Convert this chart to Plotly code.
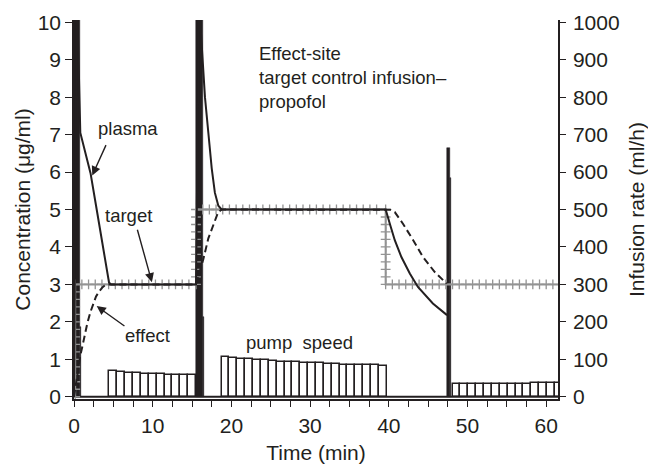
import numpy as np
import plotly.graph_objects as go

# ---- concentrations (µg/ml) over time (min) ----
plasma_t = [0.0, 0.35, 0.8, 1.5, 2.1, 2.9, 3.7, 4.15, 4.45, 4.7, 15.5, 15.9, 16.35,
            16.64, 17.07, 17.5, 17.9, 18.34, 18.76, 39.6, 40.13, 40.76, 41.6, 42.67,
            43.7, 45.6, 47.4]
plasma_c = [0.0, 11.0, 7.05, 6.5, 5.97, 4.98, 3.92, 3.38, 3.05, 3.0, 3.0, 10.5, 8.95,
            8.0, 7.05, 6.1, 5.45, 5.1, 5.0, 5.0, 4.62, 4.18, 3.73, 3.29,
            2.93, 2.49, 2.18]

effect_t = [0.0, 0.4, 0.8, 1.06, 1.4, 1.7, 2.1, 2.46, 2.8, 3.19, 3.6, 4.04, 4.6, 15.5,
            15.9, 16.43, 17.07, 17.7, 18.34, 18.8, 39.6, 40.2, 40.76, 41.8, 43.1,
            44.35, 45.84, 47.35]
effect_c = [0.0, 0.6, 1.1, 1.34, 1.7, 1.97, 2.27, 2.5, 2.68, 2.81, 2.92, 2.99, 3.0, 3.0,
            3.3, 3.67, 4.23, 4.61, 4.94, 5.0, 5.0, 4.99, 4.93, 4.62, 4.18,
            3.73, 3.33, 3.02]

# target setpoint changes
target_change_t = [0.15, 15.5, 39.6]
target_level = [3.0, 5.0, 3.0]
t_end = 61.5

# ---- pump speed (ml/h) ----
pump_a_start = 4.5
pump_a_rate = [68, 66, 64, 63, 62, 61, 60, 59, 58, 58, 57]
pump_b_start = 18.75
pump_b_rate = [105, 103, 101, 100, 98, 97, 95, 94, 93, 92, 91, 90, 89, 88, 87, 86,
               86, 85, 84, 84, 83]
pump_c_start = 48.1
pump_c_rate = [33, 33, 33, 33, 34, 34, 34, 35, 35, 35, 36, 36, 37, 37]

bolus_start = [0.0, 0.82, 15.5, 16.35, 47.4, 47.75]
bolus_end = [0.82, 0.95, 16.35, 16.47, 47.75, 47.9]
bolus_rate = [1200, 186, 1200, 213, 663, 583]

INK = "#231f20"
GREY = "#939393"
FONT = "Liberation Sans, Arial, Helvetica, sans-serif"

fig = go.Figure()

# pump: 1-minute hollow bars
bar_x, bar_y = [], []
for start, rates in [(pump_a_start, pump_a_rate), (pump_b_start, pump_b_rate),
                     (pump_c_start, pump_c_rate)]:
    for i, r in enumerate(rates):
        bar_x.append(start + i + 0.5)
        bar_y.append(r)
fig.add_trace(go.Bar(x=bar_x, y=bar_y, width=1.0, yaxis="y2",
                     marker=dict(color="white", line=dict(color=INK, width=1.5)),
                     showlegend=False, hoverinfo="skip"))

# pump: boluses drawn solid
b_mid = [(s + e) / 2 for s, e in zip(bolus_start, bolus_end)]
b_w = [e - s for s, e in zip(bolus_start, bolus_end)]
fig.add_trace(go.Bar(x=b_mid, y=bolus_rate, width=b_w, yaxis="y2",
                     marker=dict(color=INK, line=dict(color=INK, width=0.5)),
                     showlegend=False, hoverinfo="skip"))

# pump at rest
fig.add_trace(go.Scatter(x=[0, t_end], y=[0, 0], yaxis="y2", mode="lines",
                         line=dict(color=INK, width=2.2), showlegend=False,
                         hoverinfo="skip"))

# target: step line
tx, ty = [target_change_t[0]], [0.0]
for tc, lv in zip(target_change_t, target_level):
    tx += [tc, tc]
    ty += [ty[-1], lv]
tx.append(t_end)
ty.append(target_level[-1])
fig.add_trace(go.Scatter(x=tx, y=ty, mode="lines", line=dict(color=GREY, width=2),
                         showlegend=False, hoverinfo="skip"))

# target: cross marks along the step line
mx, my = [], []
prev = 0.0
for i, (tc, lv) in enumerate(zip(target_change_t, target_level)):
    n = int(round(abs(lv - prev) / 0.2))
    for k in range(n + 1):
        mx.append(tc)
        my.append(prev + (lv - prev) * k / n)
    nxt = target_change_t[i + 1] if i + 1 < len(target_change_t) else t_end
    t = tc + 0.85
    while t < nxt - 0.3:
        mx.append(t)
        my.append(lv)
        t += 0.85
    prev = lv
fig.add_trace(go.Scatter(x=mx, y=my, mode="markers",
                         marker=dict(symbol="cross-thin", size=7,
                                     line=dict(color=GREY, width=1.3)),
                         showlegend=False, hoverinfo="skip"))

# plasma and effect-site concentrations
fig.add_trace(go.Scatter(x=plasma_t, y=plasma_c, mode="lines",
                         line=dict(color=INK, width=2), showlegend=False,
                         hoverinfo="skip"))
fig.add_trace(go.Scatter(x=effect_t, y=effect_c, mode="lines",
                         line=dict(color=INK, width=2, dash="7px,4px"),
                         showlegend=False, hoverinfo="skip"))

ann_font = dict(family=FONT, size=18.5, color=INK)
annotations = [
    dict(x=6.86, y=7.17, text="plasma", showarrow=False, font=ann_font),
    dict(x=6.98, y=4.85, text="target", showarrow=False, font=ann_font),
    dict(x=9.4, y=1.64, text="effect", showarrow=False, font=ann_font),
    dict(x=28.7, y=1.46, text="pump\u00a0\u00a0speed", showarrow=False, font=ann_font),
    dict(x=23.24, y=8.53, xanchor="left", yanchor="middle", align="left",
         text="Effect-site<br>target control infusion\u2013<br>propofol",
         showarrow=False, font=ann_font),
]
for (tx0, ty0, hx, hy) in [(4.15, 6.76, 2.32, 5.91), (8.0, 4.5, 9.9, 3.06),
                           (6.6, 1.86, 2.88, 2.42)]:
    annotations.append(dict(x=hx, y=hy, ax=tx0, ay=ty0, axref="x", ayref="y",
                            xref="x", yref="y", text="", showarrow=True,
                            arrowhead=2, arrowsize=1.3, arrowwidth=1.4,
                            arrowcolor=INK, standoff=0))

tick_font = dict(family=FONT, size=21, color=INK)
title_font = dict(family=FONT, size=21, color=INK)

fig.update_layout(
    width=648, height=464,
    margin=dict(l=74, r=90, t=20, b=65),
    paper_bgcolor="white", plot_bgcolor="white",
    barmode="overlay", bargap=0,
    showlegend=False,
    annotations=annotations,
    xaxis=dict(range=[0, t_end], tickvals=[0, 10, 20, 30, 40, 50, 60],
               ticks="outside", ticklen=6, tickwidth=1.3, tickcolor=INK,
               minor=dict(dtick=2.5, tick0=0, ticks="outside", ticklen=6,
                          tickwidth=1.3, tickcolor=INK),
               showline=True, linecolor=INK, linewidth=1.5,
               showgrid=False, zeroline=False, tickfont=tick_font,
               ticklabelstandoff=1, automargin=False,
               title=dict(text="Time (min)", font=title_font, standoff=11)),
    yaxis=dict(range=[-0.06, 10.06], tickvals=list(range(0, 11)),
               ticks="outside", ticklen=7, tickwidth=1.3, tickcolor=INK,
               showline=True, linecolor=INK, linewidth=1.5,
               showgrid=False, zeroline=False, tickfont=tick_font,
               overlaying="y2", side="left", automargin=False,
               title=dict(text="Concentration (\u03bcg/ml)", font=title_font,
                          standoff=1)),
    yaxis2=dict(range=[-6, 1006], tickvals=list(range(0, 1001, 100)),
                side="right", anchor="x", automargin=False,
                ticks="outside", ticklen=6, tickwidth=1.3, tickcolor=INK,
                showline=True, linecolor=INK, linewidth=1.5,
                showgrid=False, zeroline=False, tickfont=tick_font,
                ticklabelstandoff=3,
                title=dict(text="Infusion rate (ml/h)", font=title_font,
                           standoff=13)),
)

fig.write_html("out.html")
